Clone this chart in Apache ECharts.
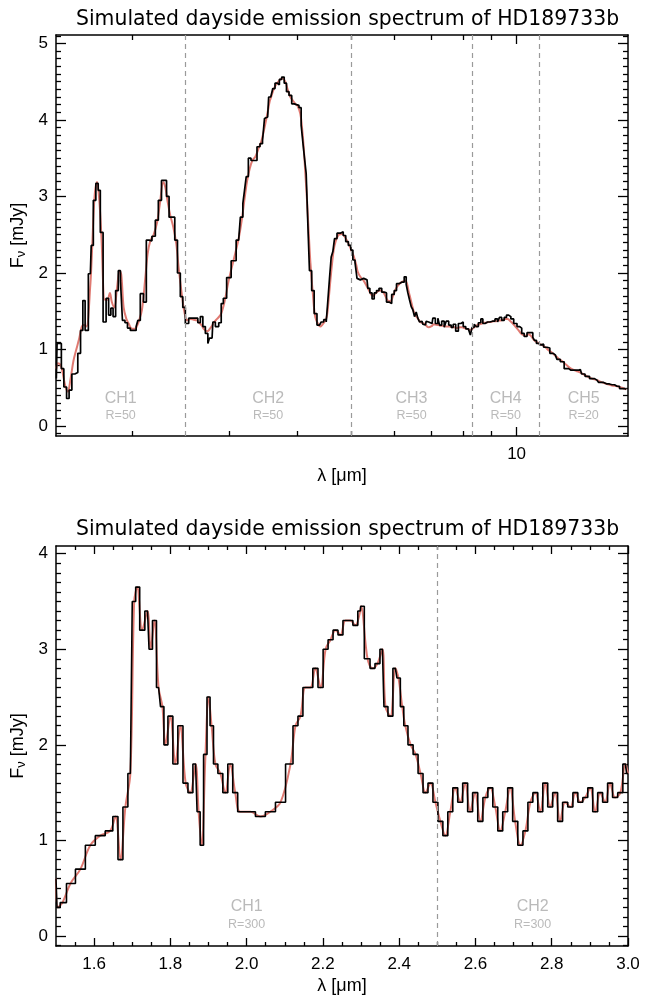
<!DOCTYPE html>
<html><head><meta charset="utf-8">
<script src="https://cdn.jsdelivr.net/npm/echarts@6/dist/echarts.min.js"></script>
<style>html,body{margin:0;padding:0;background:#fff}#c{width:651px;height:996px}</style>
</head><body><div id="c"></div>
<script>
// ---------- TOP PANEL (log wavelength axis, R=50/20 binned) ----------
const topLam = [
1.457,1.466,1.482,1.494,1.513,1.529,1.545,1.565,1.584,1.604,
1.621,1.635,1.652,1.680,1.692,1.710,1.728,1.744,1.759,1.785,
1.804,1.823,1.838,1.857,1.878,1.899,1.912,1.931,1.953,1.972,
2.000,2.028,2.042,2.056,2.085,2.112,2.135,2.159,2.189,2.221,
2.245,2.280,2.299,2.323,2.348,2.377,2.407,2.431,2.465,2.482,
2.518,2.553,2.588,2.625,2.643,2.681,2.699,2.738,2.756,2.776,
2.796,2.814,2.855,2.895,2.915,2.947,2.997,3.060,3.125,3.170,
3.191,3.214,3.237,3.272,3.309,3.351,3.398,3.436,3.470,3.494,
3.528,3.558,3.591,3.618,3.659,3.690,3.721,3.763,3.799,3.836,
3.880,3.924,3.962,4.000,4.045,4.074,4.102,4.131,4.160,4.188,
4.218,4.266,4.307,4.367,4.399,4.430,4.492,4.524,4.554,4.587,
4.619,4.651,4.684,4.749,4.817,4.864,4.919,4.973,5.023,5.057,
5.114,5.142,5.200,5.273,5.348,5.384,5.439,5.484,5.537,5.591,
5.655,5.719,5.774,5.830,5.896,5.963,6.021,6.079,6.148,6.218,
6.278,6.323,6.365,6.411,6.456,6.500,6.546,6.593,6.637,6.685,
6.732,6.777,6.826,6.875,6.921,7.020,7.067,7.169,7.217,7.268,
7.351,7.422,7.475,7.579,7.633,7.707,7.795,7.880,7.960,8.037,
8.128,8.217,8.265,8.335,8.415,8.475,8.568,8.654,8.713,8.812,
8.897,8.986,9.085,9.188,9.277,9.343,9.449,9.540,9.633,9.714,
9.812,9.948,10.087,10.159,10.274,10.374,10.518,10.667,10.738,10.815,
10.920,11.011,11.122,11.277,11.434,11.550,11.759,11.923,12.094,12.313,
12.558,12.840,13.057,13.205,13.428,13.712,14.002,14.197,14.600,14.909,
15.224,15.546,15.828];
const topBinned = [
0.62,1.08,1.08,0.75,0.51,0.36,0.47,0.68,0.70,0.95,
1.25,1.64,1.25,1.99,2.36,2.95,3.17,3.08,2.53,1.36,
1.67,1.45,1.54,1.43,1.77,2.03,1.90,1.38,1.35,1.28,
1.25,1.25,1.30,1.38,1.73,1.62,2.43,2.42,2.48,2.69,
2.95,3.21,3.21,3.00,2.73,2.73,2.43,2.00,1.69,1.55,
1.34,1.41,1.41,1.41,1.35,1.43,1.30,1.21,1.08,1.15,
1.15,1.36,1.30,1.35,1.60,1.67,1.94,2.16,2.43,2.73,
2.91,3.08,3.26,3.50,3.47,3.47,3.65,3.69,3.73,4.02,
4.04,4.30,4.28,4.41,4.48,4.46,4.53,4.56,4.48,4.37,
4.32,4.21,4.20,4.19,4.16,3.93,3.71,3.50,3.30,2.65,
2.03,1.77,1.47,1.32,1.30,1.36,1.39,1.36,1.64,1.93,
2.21,2.28,2.45,2.52,2.54,2.49,2.41,2.36,2.30,2.17,
2.14,1.93,1.91,1.93,1.91,1.80,1.74,1.66,1.74,1.77,
1.80,1.75,1.74,1.62,1.60,1.72,1.77,1.86,1.88,1.88,
1.95,1.85,1.74,1.65,1.56,1.52,1.43,1.49,1.41,1.36,
1.37,1.33,1.32,1.37,1.36,1.34,1.41,1.34,1.41,1.32,
1.37,1.29,1.37,1.32,1.29,1.33,1.24,1.34,1.36,1.30,
1.27,1.25,1.19,1.29,1.33,1.30,1.35,1.40,1.34,1.36,
1.36,1.37,1.37,1.40,1.36,1.42,1.38,1.42,1.45,1.43,
1.40,1.34,1.30,1.28,1.21,1.17,1.22,1.22,1.16,1.12,
1.08,1.06,1.07,1.03,1.02,0.95,0.93,0.87,0.84,0.75,
0.73,0.73,0.74,0.68,0.65,0.62,0.60,0.57,0.55,0.54,
0.52,0.49,0.48];
const topModel = [
0.75,0.82,0.80,0.72,0.52,0.45,0.60,0.85,1.00,1.15,
1.30,1.32,1.30,1.85,2.30,3.00,3.19,2.95,2.50,1.65,
1.65,1.74,1.62,1.55,1.80,2.03,1.98,1.55,1.40,1.34,
1.27,1.27,1.31,1.36,1.52,1.90,2.25,2.42,2.50,2.66,
2.88,3.19,3.12,2.92,2.75,2.60,2.38,2.07,1.70,1.55,
1.38,1.40,1.39,1.38,1.36,1.31,1.27,1.24,1.25,1.28,
1.31,1.35,1.40,1.45,1.50,1.63,1.90,2.17,2.45,2.72,
2.88,3.05,3.20,3.36,3.47,3.52,3.63,3.72,3.85,3.95,
4.10,4.24,4.33,4.40,4.47,4.50,4.53,4.54,4.50,4.40,
4.30,4.25,4.21,4.18,4.08,3.90,3.65,3.30,2.95,2.55,
2.15,1.70,1.42,1.32,1.30,1.32,1.38,1.45,1.65,1.90,
2.12,2.30,2.40,2.50,2.51,2.48,2.42,2.35,2.27,2.22,
2.10,2.02,1.95,1.90,1.82,1.78,1.72,1.70,1.73,1.76,
1.77,1.75,1.70,1.64,1.63,1.70,1.78,1.83,1.87,1.89,
1.90,1.86,1.76,1.67,1.58,1.50,1.45,1.42,1.39,1.36,
1.35,1.34,1.33,1.30,1.29,1.31,1.33,1.32,1.32,1.31,
1.31,1.30,1.30,1.30,1.29,1.29,1.28,1.29,1.29,1.28,
1.27,1.26,1.26,1.28,1.30,1.32,1.33,1.34,1.35,1.35,
1.36,1.36,1.37,1.37,1.38,1.38,1.39,1.40,1.40,1.38,
1.35,1.30,1.25,1.22,1.19,1.18,1.20,1.16,1.13,1.11,
1.09,1.07,1.06,1.03,0.99,0.97,0.92,0.88,0.85,0.80,
0.75,0.72,0.70,0.68,0.65,0.62,0.60,0.58,0.55,0.53,
0.52,0.50,0.48];
const topBounds = [2.5, 5.0, 8.3, 11.0];
const topChEdges = [1.455, 2.5, 5.0, 8.3, 11.0, 15.94];
const topChNames = ['CH1','CH2','CH3','CH4','CH5'];
const topChRes = ['R=50','R=50','R=50','R=50','R=20'];
const topXMajor = [10];
const topXMinor = [2,3,4,5,6,7,8,9];
const topXLabels = [10];
const topYMajor = [0,1,2,3,4,5];
const topYMinor = [-0.1,0.1,0.2,0.3,0.4,0.5,0.6,0.7,0.8,0.9,1.1,1.2,1.3,1.4,1.5,1.6,1.7,1.8,1.9,
  2.1,2.2,2.3,2.4,2.5,2.6,2.7,2.8,2.9,3.1,3.2,3.3,3.4,3.5,3.6,3.7,3.8,3.9,4.1,4.2,4.3,4.4,4.5,4.6,4.7,4.8,4.9,5.1];

// ---------- BOTTOM PANEL (linear wavelength axis, R=300) ----------
const botLam = [
1.50,1.505,1.517,1.538,1.564,1.59,1.616,1.642,1.656,1.669,
1.682,1.695,1.705,1.713,1.726,1.74,1.748,1.758,1.769,1.779,
1.787,1.80,1.813,1.826,1.84,1.852,1.866,1.874,1.882,1.892,
1.90,1.908,1.918,1.931,1.944,1.957,1.97,1.983,2.01,2.036,
2.062,2.089,2.115,2.128,2.141,2.154,2.167,2.18,2.194,2.207,
2.22,2.233,2.246,2.259,2.272,2.285,2.298,2.30,2.317,2.33,
2.343,2.356,2.364,2.377,2.39,2.398,2.408,2.416,2.43,2.443,
2.456,2.469,2.482,2.495,2.508,2.521,2.534,2.547,2.56,2.573,
2.586,2.599,2.613,2.626,2.639,2.652,2.665,2.678,2.691,2.704,
2.718,2.731,2.744,2.757,2.77,2.783,2.796,2.809,2.822,2.835,
2.849,2.862,2.875,2.888,2.901,2.914,2.927,2.94,2.953,2.966,
2.98,2.993,3.0];
const botBinned = [
0.6,0.3,0.35,0.55,0.7,0.95,1.05,1.1,1.25,0.8,
1.35,1.7,3.5,3.65,3.2,3.4,3.0,3.3,2.6,2.4,
2.0,2.3,1.8,2.2,1.6,1.5,1.8,1.3,0.95,1.9,
2.5,2.2,1.8,1.7,1.5,1.8,1.5,1.3,1.3,1.25,
1.3,1.4,1.8,2.2,2.3,2.6,2.6,2.8,2.6,3.0,
3.1,3.2,3.15,3.3,3.3,3.25,3.4,3.45,2.9,2.8,
2.85,3.0,2.4,2.3,2.8,2.7,2.4,2.2,2.0,1.9,
1.7,1.5,1.6,1.4,1.2,1.05,1.3,1.55,1.4,1.6,
1.3,1.5,1.2,1.45,1.55,1.35,1.1,1.3,1.55,1.2,
0.95,1.1,1.4,1.5,1.3,1.6,1.35,1.5,1.2,1.4,
1.35,1.5,1.4,1.45,1.55,1.3,1.5,1.4,1.6,1.45,
1.5,1.8,1.7];
const botModel = [
0.6,0.3,0.35,0.55,0.7,0.95,1.05,1.1,1.25,0.8,
1.35,1.7,3.5,3.65,3.2,3.4,3.0,3.3,2.6,2.4,
2.0,2.3,1.8,2.2,1.6,1.5,1.8,1.3,0.95,1.9,
2.5,2.2,1.8,1.7,1.5,1.8,1.5,1.3,1.3,1.25,
1.3,1.4,1.8,2.2,2.3,2.6,2.6,2.8,2.6,3.0,
3.1,3.2,3.15,3.3,3.3,3.25,3.4,3.45,2.9,2.8,
2.85,3.0,2.4,2.3,2.8,2.7,2.4,2.2,2.0,1.9,
1.7,1.5,1.6,1.4,1.2,1.05,1.3,1.55,1.4,1.6,
1.3,1.5,1.2,1.45,1.55,1.35,1.1,1.3,1.55,1.2,
0.95,1.1,1.4,1.5,1.3,1.6,1.35,1.5,1.2,1.4,
1.35,1.5,1.4,1.45,1.55,1.3,1.5,1.4,1.6,1.45,
1.5,1.8,1.7];
const botBounds = [2.5];
const botChEdges = [1.5, 2.5, 3.0];
const botChNames = ['CH1','CH2'];
const botChRes = ['R=300','R=300'];
const botXMajor = [1.6,1.8,2.0,2.2,2.4,2.6,2.8,3.0];
const botXMinor = [1.55,1.65,1.7,1.75,1.85,1.9,1.95,2.05,2.1,2.15,2.25,2.3,2.35,2.45,2.5,2.55,2.65,2.7,2.75,2.85,2.9,2.95];
const botXLabels = [1.6,1.8,2.0,2.2,2.4,2.6,2.8,3.0];
const botYMajor = [0,1,2,3,4];
const botYMinor = [-0.1,0.1,0.2,0.3,0.4,0.5,0.6,0.7,0.8,0.9,1.1,1.2,1.3,1.4,1.5,1.6,1.7,1.8,1.9,
  2.1,2.2,2.3,2.4,2.5,2.6,2.7,2.8,2.9,3.1,3.2,3.3,3.4,3.5,3.6,3.7,3.8,3.9];

const TITLE = 'Simulated dayside emission spectrum of HD189733b';
const FONT = 'Liberation Sans';
const TFONT = 'DejaVu Sans';

function xAxes(g, type, min, max, majors, minors, majLen, minLen, labels, fmt) {
  const out = [];
  ['bottom','top'].forEach(pos => {
    const base = {type, gridIndex:g, min, max, position:pos, splitLine:{show:false}};
    if (type === 'log') base.logBase = 10;
    out.push(Object.assign({}, base, {
      axisLine:{show:true, onZero:false, lineStyle:{color:'#000', width:1.5}},
      axisTick:{show:true, inside:true, length:majLen, customValues:majors, lineStyle:{color:'#000', width:1.3}},
      axisLabel: pos === 'bottom'
        ? {show:true, customValues:labels, formatter:fmt, color:'#000', fontFamily:FONT, fontSize:17, margin:10}
        : {show:false},
      name: pos === 'bottom' ? 'λ [μm]' : '',
      nameLocation:'middle', nameGap:31,
      nameTextStyle:{color:'#000', fontFamily:FONT, fontSize:18}
    }));
    out.push(Object.assign({}, base, {
      axisLine:{show:false, onZero:false},
      axisTick:{show:true, inside:true, length:minLen, customValues:minors, lineStyle:{color:'#000', width:1.3}},
      axisLabel:{show:false}
    }));
  });
  return out;
}
function yAxes(g, min, max, majors, minors) {
  const out = [];
  ['left','right'].forEach(pos => {
    const base = {type:'value', gridIndex:g, min, max, position:pos, splitLine:{show:false}};
    out.push(Object.assign({}, base, {
      axisLine:{show:true, onZero:false, lineStyle:{color:'#000', width:1.5}},
      axisTick:{show:true, inside:true, length:10, customValues:majors, lineStyle:{color:'#000', width:1.3}},
      axisLabel: pos === 'left'
        ? {show:true, customValues:majors, formatter:v => String(Math.round(v)), color:'#000', fontFamily:FONT, fontSize:17, margin:8}
        : {show:false},
      name: pos === 'left' ? '{f|F}{s|ν}{f| [mJy]}' : '',
      nameLocation:'middle', nameRotate:90, nameGap:25,
      nameTextStyle:{color:'#000', fontFamily:FONT, fontSize:18,
        rich:{f:{fontFamily:FONT, fontSize:18, color:'#000'},
              s:{fontFamily:FONT, fontSize:13, color:'#000', verticalAlign:'bottom', padding:[7,0,0,0]}}}
    }));
    out.push(Object.assign({}, base, {
      axisLine:{show:false, onZero:false},
      axisTick:{show:true, inside:true, length:5, customValues:minors, lineStyle:{color:'#000', width:1.3}},
      axisLabel:{show:false}
    }));
  });
  return out;
}

function pairs(xs, ys) { return xs.map((x, i) => [x, ys[i]]); }

function chLabels(xi, yi, centers, names, res, yv) {
  return {
    type:'scatter', xAxisIndex:xi, yAxisIndex:yi, symbolSize:0.1, silent:true,
    itemStyle:{color:'transparent'},
    data: centers.map((c, i) => ({value:[c, yv], name:names[i], res:res[i]})),
    label:{show:true, position:'inside',
      formatter: p => '{a|' + p.data.name + '}\n{b|' + p.data.res + '}',
      rich:{a:{fontFamily:FONT, fontSize:16, color:'#a9a9a9', lineHeight:19, align:'center'},
            b:{fontFamily:FONT, fontSize:12.5, color:'#a9a9a9', lineHeight:16, align:'center'}}}
  };
}
function dashLines(xs) {
  return {silent:true, symbol:['none','none'], label:{show:false},
    lineStyle:{type:[5,4], color:'#9a9a9a', width:1.2},
    data: xs.map(v => ({xAxis:v}))};
}

const topCenters = topChNames.map((_, i) => Math.sqrt(topChEdges[i] * topChEdges[i+1]));
const botCenters = botChNames.map((_, i) => (botChEdges[i] + botChEdges[i+1]) / 2);

const option = {
  animation:false,
  backgroundColor:'#fff',
  title:[
    {text:TITLE, left:71, top:5, textStyle:{fontFamily:TFONT, fontWeight:'normal', fontSize:20.4, color:'#000'}},
    {text:TITLE, left:71, top:515, textStyle:{fontFamily:TFONT, fontWeight:'normal', fontSize:20.4, color:'#000'}}
  ],
  grid:[
    {left:56, top:35, width:572, height:401},
    {left:56, top:546, width:572, height:401}
  ],
  xAxis:[].concat(
    xAxes(0, 'log', 1.455, 15.94, topXMajor, topXMinor, 9, 5, topXLabels, v => String(Math.round(v))),
    xAxes(1, 'value', 1.5, 3.0, botXMajor, botXMinor, 8, 4, botXLabels, v => v.toFixed(1))
  ),
  yAxis:[].concat(
    yAxes(0, -0.13, 5.11, topYMajor, topYMinor),
    yAxes(1, -0.104, 4.08, botYMajor, botYMinor)
  ),
  series:[
    {type:'line', xAxisIndex:0, yAxisIndex:0, data:pairs(topLam, topModel), smooth:0.35, showSymbol:false,
     lineStyle:{color:'#e07a72', width:2}, z:2, markLine:dashLines(topBounds)},
    {type:'line', xAxisIndex:0, yAxisIndex:0, data:pairs(topLam, topBinned), step:'middle', showSymbol:false,
     lineStyle:{color:'#000', width:1.7}, z:3},
    chLabels(0, 0, topCenters, topChNames, topChRes, 0.26),
    {type:'line', xAxisIndex:4, yAxisIndex:4, data:pairs(botLam, botModel), smooth:0.35, showSymbol:false,
     lineStyle:{color:'#e07a72', width:2}, z:2, markLine:dashLines(botBounds)},
    {type:'line', xAxisIndex:4, yAxisIndex:4, data:pairs(botLam, botBinned), step:'middle', showSymbol:false,
     lineStyle:{color:'#000', width:1.6}, z:3},
    chLabels(4, 4, botCenters, botChNames, botChRes, 0.22)
  ]
};
const chart = echarts.init(document.getElementById('c'), null, {renderer:'canvas'});
chart.setOption(option);
</script></body></html>
